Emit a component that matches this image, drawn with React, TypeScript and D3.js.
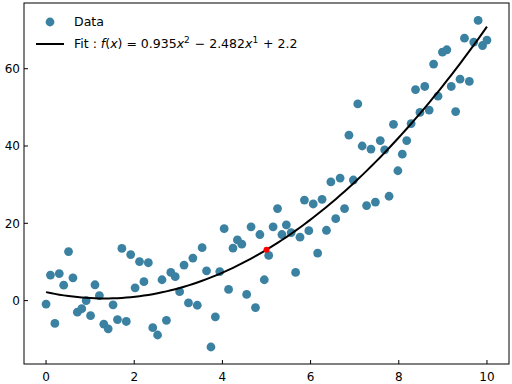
import React from "react";
import * as d3 from "d3";

// sample positions (evenly spaced 0..10, 100 samples)
const xs = [
  0.0, 0.1, 0.2, 0.3, 0.4, 0.51, 0.61, 0.71, 0.81, 0.91,
  1.01, 1.11, 1.21, 1.31, 1.41, 1.52, 1.62, 1.72, 1.82, 1.92,
  2.02, 2.12, 2.22, 2.32, 2.42, 2.53, 2.63, 2.73, 2.83, 2.93,
  3.03, 3.13, 3.23, 3.33, 3.43, 3.54, 3.64, 3.74, 3.84, 3.94,
  4.04, 4.14, 4.24, 4.34, 4.44, 4.55, 4.65, 4.75, 4.85, 4.95,
  5.05, 5.15, 5.25, 5.35, 5.45, 5.56, 5.66, 5.76, 5.86, 5.96,
  6.06, 6.16, 6.26, 6.36, 6.46, 6.57, 6.67, 6.77, 6.87, 6.97,
  7.07, 7.17, 7.27, 7.37, 7.47, 7.58, 7.68, 7.78, 7.88, 7.98,
  8.08, 8.18, 8.28, 8.38, 8.48, 8.59, 8.69, 8.79, 8.89, 8.99,
  9.09, 9.19, 9.29, 9.39, 9.49, 9.6, 9.7, 9.8, 9.9, 10.0,
];

const ys = [
  -0.9, 6.6, -5.9, 7.0, 4.0, 12.7, 5.9, -3.0, -2.1, 0.0,
  -3.9, 4.1, 1.3, -6.1, -7.3, -1.1, -4.9, 13.5, -5.4, 11.9,
  3.3, 10.1, 4.9, 9.8, -7.0, -8.9, 5.4, -5.1, 7.3, 6.2,
  2.3, 9.2, -0.6, 11.0, -1.2, 13.7, 7.7, -12.0, -4.2, 7.5,
  18.6, 2.9, 13.6, 15.7, 14.6, 1.6, 19.1, -1.8, 17.1, 5.4,
  11.7, 19.1, 23.8, 17.1, 19.6, 17.6, 7.3, 16.4, 26.0, 18.1,
  25.0, 12.3, 26.2, 18.2, 30.7, 21.2, 31.7, 23.8, 42.8, 31.2,
  50.9, 40.0, 24.6, 39.2, 25.5, 41.4, 39.0, 27.0, 45.6, 33.6,
  37.9, 41.4, 45.8, 54.6, 48.7, 55.4, 49.3, 61.2, 52.9, 64.3,
  64.9, 55.4, 48.9, 57.3, 67.9, 56.7, 66.9, 72.5, 66.0, 67.4,
];

// fit coefficients (a*x^2 + b*x + c)
const coefs = [0.935, -2.482, 2.2];
const highlightX = 5;

const xTicks = [0, 2, 4, 6, 8, 10];
const yTicks = [0, 20, 40, 60];

const W = 512;
const H = 384;
const left = 24, right = 509, top = 3, bottom = 364;

const fit = (x: number) => coefs[0] * x * x + coefs[1] * x + coefs[2];

const App = () => {
  const x = d3.scaleLinear().domain([-0.5, 10.5]).range([left, right]);
  const y = d3.scaleLinear().domain([-16.4, 77.0]).range([bottom, top]);

  const line = d3
    .line<number>()
    .x((d) => x(d))
    .y((d) => y(fit(d)));

  const font = "'DejaVu Sans', sans-serif";
  const color = "#3b81a1";

  return (
    <svg
      width={W}
      height={H}
      style={{ position: "absolute", left: 0, top: 0, background: "#fff" }}
    >
      <defs>
        <clipPath id="plot">
          <rect x={left} y={top} width={right - left} height={bottom - top} />
        </clipPath>
      </defs>
      <g clipPath="url(#plot)">
        {xs.map((d, i) => (
          <circle key={i} cx={x(d)} cy={y(ys[i])} r={4.4} fill={color} />
        ))}
        <path d={line(xs) || ""} fill="none" stroke="#000" strokeWidth={2} />
        <circle cx={x(highlightX)} cy={y(fit(highlightX))} r={3} fill="red" />
      </g>
      <rect
        x={left}
        y={top}
        width={right - left}
        height={bottom - top}
        fill="none"
        stroke="#000"
        strokeWidth={1}
      />
      {xTicks.map((t) => (
        <g key={"x" + t}>
          <line x1={x(t)} x2={x(t)} y1={bottom} y2={bottom - 4} stroke="#000" />
          <text
            x={x(t)}
            y={bottom + 17}
            textAnchor="middle"
            fontFamily={font}
            fontSize={12}
            fill="#000"
          >
            {t}
          </text>
        </g>
      ))}
      {yTicks.map((t) => (
        <g key={"y" + t}>
          <line x1={left} x2={left + 4} y1={y(t)} y2={y(t)} stroke="#000" />
          <text
            x={left - 4}
            y={y(t)}
            dy="0.35em"
            textAnchor="end"
            fontFamily={font}
            fontSize={12}
            fill="#000"
          >
            {t}
          </text>
        </g>
      ))}
      {/* legend */}
      <circle cx={50} cy={22} r={4.4} fill={color} />
      <text x={74} y={22} dy="0.35em" fontFamily={font} fontSize={12.5}>
        Data
      </text>
      <line x1={36} x2={64} y1={44} y2={44} stroke="#000" strokeWidth={2} />
      <text
        x={74}
        y={44}
        dy="0.35em"
        fontFamily={font}
        fontSize={12.5}
        style={{ whiteSpace: "pre" }}
      >
        <tspan>Fit : </tspan>
        <tspan fontStyle="italic">f</tspan>
        <tspan>(</tspan>
        <tspan fontStyle="italic">x</tspan>
        <tspan>{") = 0.935"}</tspan>
        <tspan fontStyle="italic">x</tspan>
        <tspan fontSize={9} dy={-5}>2</tspan>
        <tspan dy={5} dx={1}>{" − 2.482"}</tspan>
        <tspan fontStyle="italic">x</tspan>
        <tspan fontSize={9} dy={-5}>1</tspan>
        <tspan dy={5} dx={1}>{" + 2.2"}</tspan>
      </text>
    </svg>
  );
};

export default App;
